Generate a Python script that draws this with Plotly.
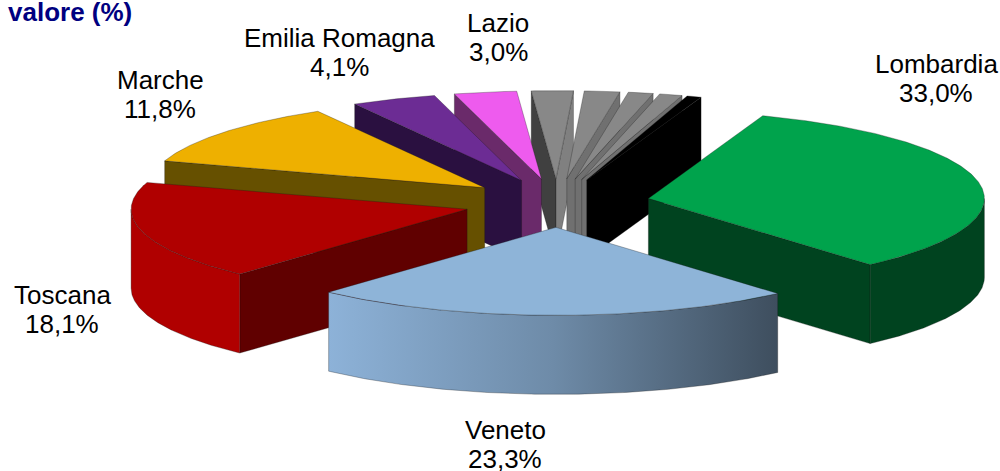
import numpy as np
import plotly.graph_objects as go

# ---- data -------------------------------------------------------------
regions = ["Lombardia", "Veneto", "Toscana", "Marche", "Emilia Romagna", "Lazio",
           "Altre A", "Altre B", "Altre C", "Altre D", "Altre E"]
values = [33.0, 23.3, 18.1, 11.8, 4.1, 3.0, 2.0, 1.7, 1.2, 1.1, 0.7]
labelled = ["Lombardia", "Veneto", "Toscana", "Marche", "Emilia Romagna", "Lazio"]
top_colors = ["#00A34C", "#8EB4D8", "#B00000", "#EEB000", "#6C2C94", "#EE5BEE",
              "#888888", "#888888", "#888888", "#888888", "#000000"]
start_wall_colors = ["#00431F", "#3E4E5E", "#600000", "#665000", "#2A1040", "#6A2A6A",
                     "#404040", "#808080", "#808080", "#808080", "#000000"]
end_wall_colors = ["#00431F", "#3E4E5E", "#600000", "#665000", "#2A1040", "#6A2A6A",
                   "#808080", "#707070", "#707070", "#707070", "#000000"]
outer_wall_colors = ["#00431F", None, "#B00000", "#665000", "#2A1040", "#6A2A6A",
                     "#808080", "#808080", "#808080", "#808080", "#000000"]
draw_order = ["Altre A", "Altre B", "Altre C", "Altre D", "Altre E", "Lazio",
              "Emilia Romagna", "Marche", "Toscana", "Lombardia", "Veneto"]
title = "valore (%)"

# ---- pie geometry ------------------------------------------------------
CX, CY = 557.0, 203.0     # pie centre on the page
RX, RY = 336.0, 88.0      # ellipse of the top face
DEPTH = 79.0
EXPLODE = 93.0            # distance of each slice from the centre
FIRST = 19.9              # first slice angle, clockwise from the back
EDGE = "rgba(25,25,25,0.6)"

label_pos = {"Lombardia": (936, 64), "Veneto": (505, 430), "Toscana": (62, 295),
             "Marche": (160, 80), "Emilia Romagna": (339, 38), "Lazio": (498, 23)}
LINE_GAP = 29

fig = go.Figure()


def pt(theta, apex, r=1.0, dz=0.0):
    t = np.radians(theta)
    return apex[0] + r * RX * np.sin(t), apex[1] - r * RY * np.cos(t) + dz


def poly(xs, ys, color, gradient=None):
    kw = dict(fillgradient=gradient) if gradient else dict(fillcolor=color)
    fig.add_trace(go.Scatter(x=list(xs), y=list(ys), mode="lines", fill="toself",
                             line=dict(color=EDGE, width=0.5), hoverinfo="skip",
                             showlegend=False, **kw))


def arc(t0, t1, apex, dz=0.0):
    th = np.linspace(t0, t1, max(int(abs(t1 - t0)) * 2, 2) + 1)
    return pt(th, apex, dz=dz)


edges = FIRST + np.concatenate([[0], np.cumsum(values)]) * 360.0 / sum(values)

for name in draw_order:
    i = regions.index(name)
    t0, t1 = edges[i], edges[i + 1]
    mid = np.radians((t0 + t1) / 2)
    apex = (CX + EXPLODE * np.sin(mid), CY - EXPLODE * RY / RX * np.cos(mid))
    ax, ay = apex

    # cut walls
    if np.sin(np.radians(t0)) < 0:
        x0, y0 = pt(t0, apex)
        poly([ax, x0, x0, ax, ax], [ay, y0, y0 + DEPTH, ay + DEPTH, ay], start_wall_colors[i])
    if np.sin(np.radians(t1)) > 0:
        x1, y1 = pt(t1, apex)
        poly([ax, x1, x1, ax, ax], [ay, y1, y1 + DEPTH, ay + DEPTH, ay], end_wall_colors[i])

    # outer wall (front half of the rim only)
    lo, hi = t0, t1
    for k in (0, 360):
        a, b = max(lo, 90 + k), min(hi, 270 + k)
        if a < b:
            xa, ya = arc(a, b, apex)
            xb, yb = arc(b, a, apex, dz=DEPTH)
            xs = np.concatenate([xa, xb, xa[:1]])
            ys = np.concatenate([ya, yb, ya[:1]])
            if outer_wall_colors[i] is None:
                poly(xs, ys, None, gradient=dict(
                    type="horizontal",
                    colorscale=[[0, "#8DB2D8"], [0.5, "#6E8BA8"], [1, "#3E4E5E"]]))
            else:
                poly(xs, ys, outer_wall_colors[i])

    # top face
    xa, ya = arc(t0, t1, apex)
    poly(np.concatenate([[ax], xa, [ax]]), np.concatenate([[ay], ya, [ay]]), top_colors[i])

# ---- labels ------------------------------------------------------------
FONT = "Liberation Sans, Arial, sans-serif"
for name in labelled:
    x, y = label_pos[name]
    pct = f"{values[regions.index(name)]:.1f}".replace(".", ",") + "%"
    for text, yy in ((name, y), (pct, y + LINE_GAP)):
        fig.add_annotation(x=x, y=yy, text=text, showarrow=False, xanchor="center",
                           yanchor="middle", font=dict(family=FONT, size=26, color="#000000"))
fig.add_annotation(x=6, y=12, text=f"<b>{title}</b>", showarrow=False, xanchor="left",
                   yanchor="middle", font=dict(family=FONT, size=26, color="#000080"))

fig.update_layout(
    width=1000, height=471, margin=dict(l=0, r=0, t=0, b=0),
    paper_bgcolor="white", plot_bgcolor="white", showlegend=False,
    xaxis=dict(range=[0, 1000], visible=False, fixedrange=True),
    yaxis=dict(range=[471, 0], visible=False, fixedrange=True),
)
fig.write_html("out.html", config={"displayModeBar": False},
               post_script="document.body.style.margin='0';document.body.style.overflow='hidden';")
